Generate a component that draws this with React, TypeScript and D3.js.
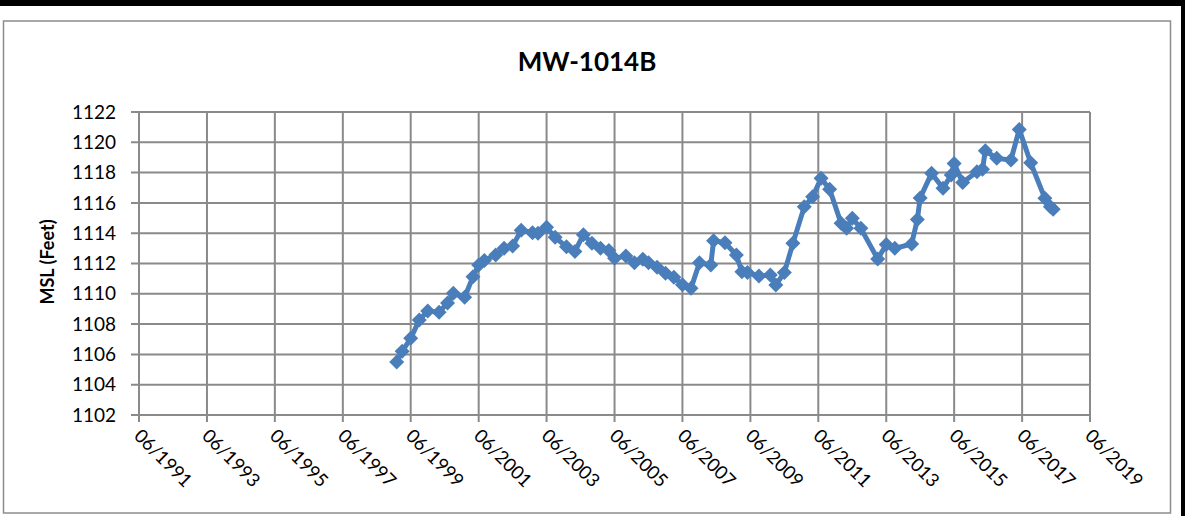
import React from "react";
import * as d3 from "d3";

const title = "MW-1014B";
const yLabel = "MSL (Feet)";
const yTicks = [1102, 1104, 1106, 1108, 1110, 1112, 1114, 1116, 1118, 1120, 1122];
const xTickYears = [1991, 1993, 1995, 1997, 1999, 2001, 2003, 2005, 2007, 2009, 2011, 2013, 2015, 2017, 2019];

const dates = [
  "1999-01", "1999-03", "1999-06", "1999-09", "1999-12", "2000-04", "2000-07", "2000-09",
  "2001-01", "2001-04", "2001-06", "2001-08", "2001-12", "2002-03", "2002-06", "2002-09",
  "2003-01", "2003-03", "2003-06", "2003-09", "2004-01", "2004-04", "2004-07", "2004-10",
  "2005-01", "2005-04", "2005-06", "2005-10", "2006-01", "2006-04", "2006-06", "2006-09",
  "2006-12", "2007-03", "2007-06", "2007-09", "2007-12", "2008-04", "2008-05", "2008-09",
  "2009-01", "2009-03", "2009-05", "2009-09", "2010-01", "2010-03", "2010-06", "2010-09",
  "2011-01", "2011-04", "2011-07", "2011-10", "2012-02", "2012-04", "2012-06", "2012-09",
  "2013-03", "2013-06", "2013-09", "2014-03", "2014-05", "2014-06", "2014-10", "2015-02",
  "2015-05", "2015-06", "2015-09", "2016-02", "2016-04", "2016-05", "2016-09", "2017-02",
  "2017-05", "2017-09", "2018-02", "2018-04", "2018-05",
];

const levels = [
  1105.5, 1106.2, 1107.06, 1108.27, 1108.86, 1108.78, 1109.4, 1110.03,
  1109.77, 1111.13, 1111.9, 1112.2, 1112.56, 1113.0, 1113.15, 1114.2,
  1114.03, 1113.99, 1114.39, 1113.73, 1113.1, 1112.8, 1113.9, 1113.33,
  1113.0, 1112.85, 1112.34, 1112.5, 1112.05, 1112.28, 1112.05, 1111.75,
  1111.35, 1111.09, 1110.6, 1110.36, 1112.05, 1111.9, 1113.5, 1113.37,
  1112.56, 1111.46, 1111.4, 1111.17, 1111.24, 1110.58, 1111.4, 1113.33,
  1115.75, 1116.4, 1117.62, 1116.9, 1114.65, 1114.32, 1114.98, 1114.32,
  1112.3, 1113.25, 1113.0, 1113.29, 1114.9, 1116.33, 1117.95, 1116.96,
  1117.84, 1118.6, 1117.34, 1118.06, 1118.22, 1119.45, 1118.94, 1118.83,
  1120.85, 1118.65, 1116.3, 1115.75, 1115.58,
];

const W = 1185;
const H = 516;
const parse = d3.timeParse("%Y-%m");

export default function App() {
  const x = d3
    .scaleTime()
    .domain([new Date(1991, 5, 1), new Date(2019, 5, 1)])
    .range([139, 1090]);
  const y = d3.scaleLinear().domain([1102, 1122]).range([415, 112]);

  const data = dates.map((d, i) => ({ date: parse(d) as Date, v: levels[i] }));
  const line = d3
    .line<{ date: Date; v: number }>()
    .x((d) => x(d.date))
    .y((d) => y(d.v));

  const gridColor = "#8a8a8a";
  const blue = "#4A7EBB";
  const font = "Lato, 'Open Sans', sans-serif";
  const diamond = "M0,-7.5 L7.5,0 L0,7.5 L-7.5,0Z";

  const [y0, y1] = y.range();
  const [x0, x1] = x.range();

  return (
    <svg
      width={W}
      height={H}
      style={{ position: "absolute", left: 0, top: 0, background: "#fff" }}
    >
      <rect x={0} y={0} width={W} height={6} fill="#000" />
      <rect x={1181} y={0} width={4} height={H} fill="#000" />
      <rect x={3.5} y={21} width={1167} height={492} fill="#fff" stroke="#8c8c8c" strokeWidth={1.5} />

      <text x={587} y={71} textAnchor="middle" fontFamily={font} fontWeight={700} fontSize={26} fill="#000">
        {title}
      </text>

      {yTicks.map((t) => (
        <g key={t}>
          <line x1={131} x2={x1} y1={y(t)} y2={y(t)} stroke={gridColor} strokeWidth={2} />
          <text x={116} y={y(t)} dy="0.35em" textAnchor="end" fontFamily={font} fontSize={19} fill="#000">
            {t}
          </text>
        </g>
      ))}

      {xTickYears.map((yr) => {
        const px = x(new Date(yr, 5, 1));
        return (
          <g key={yr}>
            <line x1={px} x2={px} y1={y1} y2={y0 + 7} stroke={gridColor} strokeWidth={2} />
            <text
              transform={`translate(${px - 6},${y0 + 22}) rotate(45)`}
              fontFamily={font}
              fontSize={18.5}
              fill="#000"
            >
              {`06/${yr}`}
            </text>
          </g>
        );
      })}

      <text
        transform={`translate(54,262) rotate(-90)`}
        textAnchor="middle"
        fontFamily={font}
        fontWeight={700}
        fontSize={18}
        fill="#000"
      >
        {yLabel}
      </text>

      <path d={line(data) || ""} fill="none" stroke={blue} strokeWidth={5} strokeLinejoin="round" />
      {data.map((d, i) => (
        <path key={i} d={diamond} transform={`translate(${x(d.date)},${y(d.v)})`} fill={blue} />
      ))}
    </svg>
  );
}
